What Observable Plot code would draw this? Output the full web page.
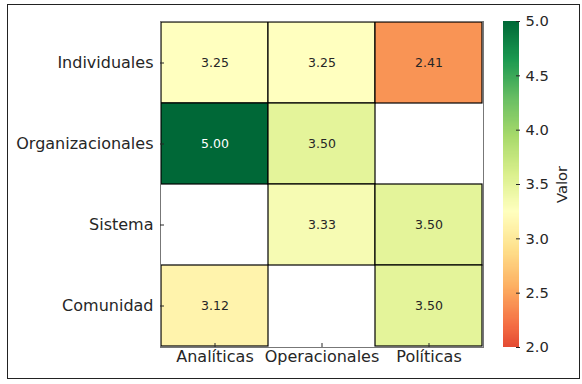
<!DOCTYPE html>
<html><head><meta charset="utf-8">
<script src="https://cdn.jsdelivr.net/npm/d3@7"></script>
<script src="https://cdn.jsdelivr.net/npm/@observablehq/plot@0.6"></script>
<style>
body{margin:0;background:#fff;}
#wrap{position:relative;width:582px;height:384px;font-family:"DejaVu Sans",sans-serif;}
#wrap svg{position:absolute;left:0;top:0;}
#border{position:absolute;left:7px;top:4px;width:571px;height:373px;border:1.5px solid #222;pointer-events:none;}
</style></head><body><div id="wrap"></div>
<script>
const rows = ["Individuales", "Organizacionales", "Sistema", "Comunidad"];
const cols = ["Analíticas", "Operacionales", "Políticas"];
const valIndividuales = [3.25, 3.25, 2.41];
const valOrganizacionales = [5.00, 3.50, null];
const valSistema = [null, 3.33, 3.50];
const valComunidad = [3.12, null, 3.50];
const colorTicks = [2.0, 2.5, 3.0, 3.5, 4.0, 4.5, 5.0];
const paletteStops = [1.5, 1.85, 2.2, 2.55, 2.9, 3.25, 3.6, 3.95, 4.3, 4.65, 5.0];
const paletteColors = ["#a50026","#d73027","#f46d43","#fdae61","#fee08b","#ffffbf","#d9ef8b","#a6d96a","#66bd63","#1a9850","#006837"];
const colorbarLabel = "Valor";

const values = [valIndividuales, valOrganizacionales, valSistema, valComunidad];
const cells = rows.flatMap((r, i) => cols.map((c, j) => ({row: r, col: c, value: values[i][j]})));
const filled = cells.filter(d => d.value != null);

const color = {type: "linear", domain: paletteStops, range: paletteColors, interpolate: "rgb"};
const styleMain = {fontFamily: "DejaVu Sans", fontSize: "16px", color: "#262626", background: "transparent", overflow: "visible"};
const styleCb = {fontFamily: "DejaVu Sans", fontSize: "14.7px", color: "#262626", background: "transparent", overflow: "visible"};

const main = Plot.plot({
  width: 582, height: 384,
  marginLeft: 160, marginRight: 99, marginTop: 21, marginBottom: 37,
  style: styleMain,
  x: {domain: cols, padding: 0, label: null},
  y: {domain: rows, padding: 0, label: null},
  color,
  marks: [
    Plot.cell(filled, {x: "col", y: "row", fill: "value", stroke: "black", strokeWidth: 1.2}),
    Plot.text(filled.filter(d => d.value <= 4.5), {x: "col", y: "row", text: d => d.value.toFixed(2), fill: "#262626", fontSize: 12.5}),
    Plot.text(filled.filter(d => d.value > 4.5), {x: "col", y: "row", text: d => d.value.toFixed(2), fill: "white", fontSize: 12.5}),
    Plot.frame({stroke: "#777"}),
    Plot.axisX({anchor: "bottom", tickSize: -4, tickPadding: 7, label: null}),
    Plot.axisY({anchor: "left", tickSize: -4, tickPadding: 11, label: null})
  ]
});

const grad = d3.range(2, 5, 0.01);
const cb = Plot.plot({
  width: 582, height: 384,
  marginLeft: 503, marginRight: 63, marginTop: 21, marginBottom: 37,
  style: styleCb,
  y: {domain: [2, 5], label: null},
  color,
  marks: [
    Plot.rect(grad, {y1: d => d, y2: d => Math.min(5, d + 0.012), fill: d => d + 0.005, shapeRendering: "crispEdges"}),
    Plot.axisY({anchor: "right", ticks: colorTicks, tickFormat: d3.format(".1f"), tickSize: -4, tickPadding: 10, label: null}),
    Plot.text([colorbarLabel], {frameAnchor: "right", textAnchor: "middle", dx: 43, rotate: -90, fontSize: 14.7, fill: "#262626"})
  ]
});

const wrap = document.getElementById("wrap");
wrap.appendChild(main);
wrap.appendChild(cb);
const b = document.createElement("div"); b.id = "border"; wrap.appendChild(b);
</script></body></html>
